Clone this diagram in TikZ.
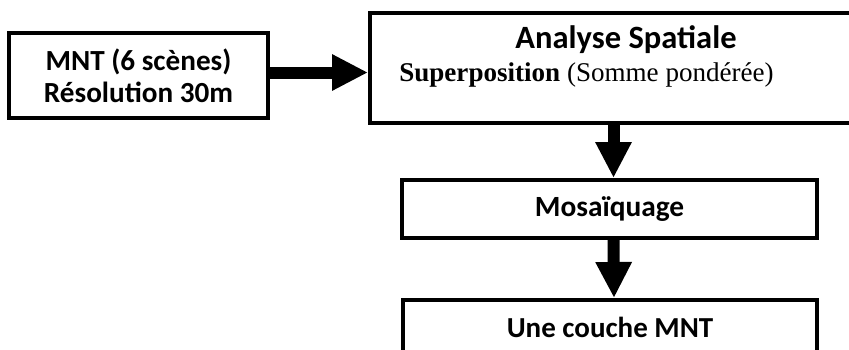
\documentclass[tikz,border=0pt]{standalone}
\usepackage{fontspec}
\setmainfont{Liberation Serif}
\newfontfamily\calib{Carlito}
\usepackage{tikz}
\usetikzlibrary{arrows.meta}

\tikzset{
  boite/.style={draw, line width=0.08cm, minimum height=#1, inner sep=0pt},
  grosse fleche/.style={line width=0.24cm, -{Triangle[length=0.72cm, width=0.68cm]}}
}

\begin{document}
\begin{tikzpicture}
            \useasboundingbox (0, 0) rectangle (16.98, -6.98);
            \clip (0, 0) rectangle (16.98, -6.98);

            % les boites
            \node[boite=1.70cm, minimum width=5.18cm, align=center,
                  font=\calib\bfseries\fontsize{16.6}{18.2}\selectfont] (mnt) at (2.77, -1.51)
                  {MNT (6 scènes)\\Résolution 30m};
            \node[boite=2.20cm, minimum width=9.80cm] (analyse) at (12.30, -1.36) {};
            \node[inner sep=0pt, font=\calib\bfseries\fontsize{18.5}{22}\selectfont] (titre) at (12.52, -0.80) {Analyse Spatiale};
            \node[inner sep=0pt, font=\fontsize{15.4}{18}\selectfont] (sous) at (11.73, -1.50)
                  {\textbf{Superposition} (Somme pondérée)};
            \node[boite=1.16cm, minimum width=8.30cm,
                  font=\calib\bfseries\fontsize{16.7}{19}\selectfont] (mosa) at (12.19, -4.18) {Mosaïquage};
            \node[boite=1.30cm, minimum width=8.28cm, anchor=north,
                  font=\calib\bfseries\fontsize{16.5}{19}\selectfont, text depth=0.22cm] (couche) at (12.20, -5.96) {Une couche MNT};

            % les fleches
            \draw[grosse fleche] ([yshift=0.06cm]mnt.east) -- ([yshift=0.06cm]mnt.east -| analyse.west);
            \draw[grosse fleche] ([xshift=0.08cm]analyse.south -| mosa.north) -- ([xshift=0.08cm]mosa.north);
            \draw[grosse fleche] ([xshift=0.08cm]mosa.south) -- ([xshift=0.08cm]couche.north);

        \end{tikzpicture}
\end{document}
